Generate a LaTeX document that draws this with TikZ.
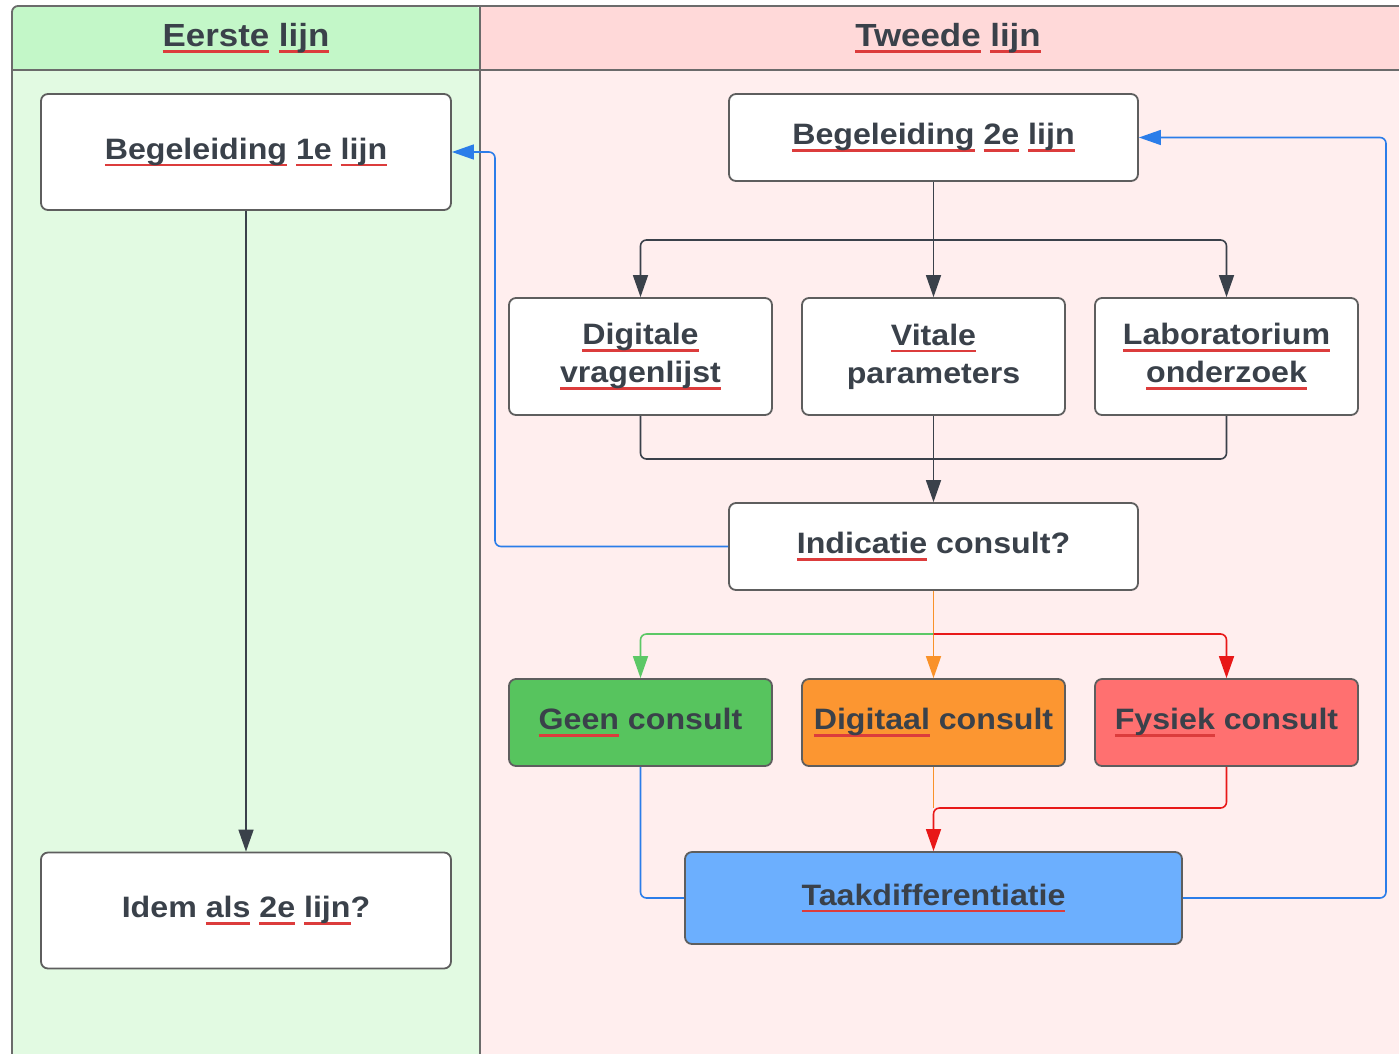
\documentclass[tikz,border=0pt]{standalone}
\usepackage{fontspec}
\setmainfont{Liberation Sans}[FakeStretch=1.09]
\usetikzlibrary{arrows.meta}
\definecolor{txt}{HTML}{3A414A}
\definecolor{squig}{HTML}{DC3C3C}
\definecolor{hdgreen}{HTML}{C3F7C8}
\definecolor{bdgreen}{HTML}{E2FAE2}
\definecolor{hdred}{HTML}{FFD9D9}
\definecolor{bdred}{HTML}{FFEEEE}
\definecolor{frame}{HTML}{6B6B6B}
\definecolor{boxline}{HTML}{5E5E5E}
\definecolor{cgreen}{HTML}{57C45E}
\definecolor{corange}{HTML}{FC9631}
\definecolor{cred}{HTML}{FF7070}
\definecolor{cblue}{HTML}{6CAFFE}
\definecolor{lblue}{HTML}{2B7DE9}
\definecolor{lgreen}{HTML}{5CC866}
\definecolor{lorange}{HTML}{F9922A}
\definecolor{lred}{HTML}{E81818}
\newcommand\sq[1]{\leavevmode\setbox0=\hbox{#1}\rlap{\color{squig}\rule[-7pt]{\wd0}{2.6pt}}\box0\relax}
\tikzset{
  box/.style={draw=boxline, line width=1.8pt, rounded corners=7pt, fill=white,
    text=txt, font=\bfseries\fontsize{29.5}{38}\selectfont, align=center, inner sep=0pt},
  hdr/.style={text=txt, font=\bfseries\fontsize{32}{38}\selectfont, inner sep=0pt},
  conn/.style={draw=txt, line width=1.6pt, rounded corners=6pt},
  tip/.style={-{Triangle[length=22pt,width=15pt]}},
}
\begin{document}
\begin{tikzpicture}[x=1pt,y=-1pt]
\useasboundingbox (0,0) rectangle (1399,1053);
\clip (0,0) rectangle (1399,1053);
\fill[white] (0,0) rectangle (1399,1053);
% lanes
\fill[bdgreen] (12,70) rectangle (480,1070);
\fill[bdred] (480,70) rectangle (1420,1070);
\fill[hdgreen, rounded corners=6pt] (12,1070) -- (12,6) -- (480,6) [sharp corners] -- (480,70) -- (12,70) -- cycle;
\fill[hdred] (480,6) rectangle (1420,70);
\draw[frame, line width=1.8pt, rounded corners=6pt] (12,1070) -- (12,6) -- (1420,6);
\draw[frame, line width=1.8pt] (12,70) -- (1420,70);
\draw[frame, line width=1.8pt] (480,6) -- (480,1070);
\node[hdr, anchor=base] (h1) at (246,46) {\sq{Eerste} \sq{lijn}};
\node[hdr, anchor=base] (h2) at (948,46) {\sq{Tweede} \sq{lijn}};
% nodes
\node[box, minimum width=410pt, minimum height=116pt] (b1) at (246,152) {\sq{Begeleiding} \sq{1e} \sq{lijn}};
\node[box, minimum width=410pt, minimum height=116pt] (idem) at (246,910.5) {Idem \sq{als} \sq{2e} \sq{lijn}?};
\node[box, minimum width=409pt, minimum height=87pt] (b2) at (933.5,137.5) {\sq{Begeleiding} \sq{2e} \sq{lijn}};
\node[box, minimum width=263pt, minimum height=117pt] (dv) at (640.5,356.5) {\sq{Digitale}\\\sq{vragenlijst}};
\node[box, minimum width=263pt, minimum height=117pt] (vp) at (933.5,356.5) {\sq{Vitale}\\parameters};
\node[box, minimum width=263pt, minimum height=117pt] (lo) at (1226.5,356.5) {\sq{Laboratorium}\\\sq{onderzoek}};
\node[box, minimum width=409pt, minimum height=87pt] (ind) at (933.5,546.5) {\sq{Indicatie} consult?};
\node[box, fill=cgreen, minimum width=263pt, minimum height=87pt] (gc) at (640.5,722.5) {\sq{Geen} consult};
\node[box, fill=corange, minimum width=263pt, minimum height=87pt] (dc) at (933.5,722.5) {\sq{Digitaal} consult};
\node[box, fill=cred, minimum width=263pt, minimum height=87pt] (fc) at (1226.5,722.5) {\sq{Fysiek} consult};
\node[box, fill=cblue, minimum width=497pt, minimum height=92pt] (taak) at (933.5,898) {\sq{Taakdifferentiatie}};
% junctions
\coordinate (j1) at (933.5,240);
\coordinate (jm) at (933.5,459);
\coordinate (jc) at (933.5,634);
\coordinate (jr) at (933.5,808);
\coordinate (lb) at (495,350);
\coordinate (rb) at (1386,500);
% gray connectors
\draw[conn, tip] (b1.south) -- (idem.north);
\draw[conn, tip] (b2.south) -- (vp.north);
\draw[conn, tip] (j1) -| (dv.north);
\draw[conn, tip] (j1) -| (lo.north);
\draw[conn] (dv.south) |- (jm);
\draw[conn] (lo.south) |- (jm);
\draw[conn, tip] (vp.south) -- (ind.north);
% blue feedback
\draw[conn, draw=lblue, -{Triangle[length=22pt,width=15pt,fill=lblue]}] (ind.west) -| (lb) |- (b1.east);
\draw[conn, draw=lblue, -{Triangle[length=22pt,width=15pt,fill=lblue]}] (taak.east) -| (rb) |- (b2.east);
% consult choices
\draw[conn, draw=lorange] (ind.south) -- (jc);
\draw[conn, draw=lgreen, -{Triangle[length=22pt,width=15pt,fill=lgreen]}] (jc) -| (gc.north);
\draw[conn, draw=lorange, -{Triangle[length=22pt,width=15pt,fill=lorange]}] (jc) -- (dc.north);
\draw[conn, draw=lred, -{Triangle[length=22pt,width=15pt,fill=lred]}] (jc) -| (fc.north);
% to Taakdifferentiatie
\draw[conn, draw=lblue] (gc.south) |- (taak.west);
\draw[conn, draw=lorange] (dc.south) -- (jr);
\draw[conn, draw=lred, -{Triangle[length=22pt,width=15pt,fill=lred]}] (fc.south) |- (jr) -- (taak.north);
\end{tikzpicture}
\end{document}
